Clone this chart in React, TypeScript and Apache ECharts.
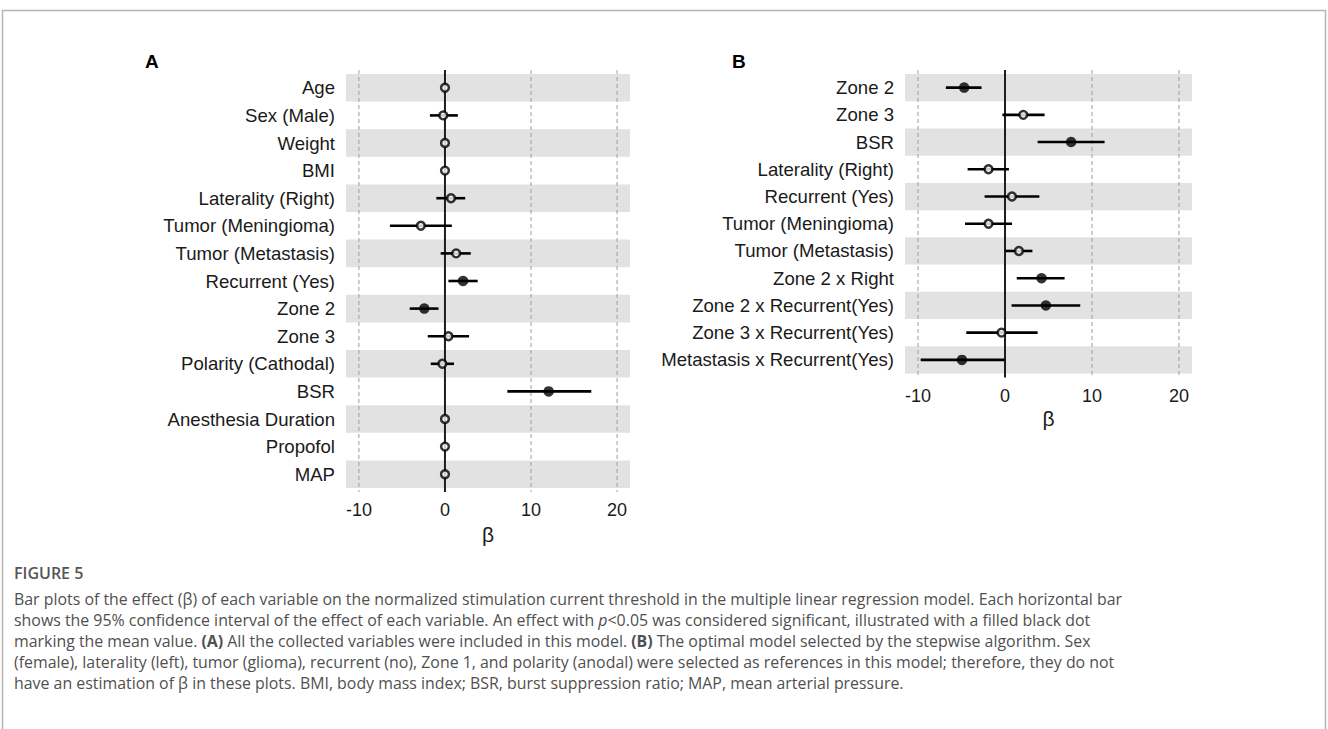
import React, { useEffect, useRef } from 'react';
import * as echarts from 'echarts';

// ---------- Data ----------
const labelsA = [
  'Age', 'Sex (Male)', 'Weight', 'BMI', 'Laterality (Right)', 'Tumor (Meningioma)',
  'Tumor (Metastasis)', 'Recurrent (Yes)', 'Zone 2', 'Zone 3', 'Polarity (Cathodal)',
  'BSR', 'Anesthesia Duration', 'Propofol', 'MAP',
];
const estA = [0, -0.2, 0, 0, 0.7, -2.8, 1.3, 2.1, -2.4, 0.4, -0.3, 12.05, 0, 0, 0];
const loA = [-0.05, -1.75, -0.05, -0.05, -1.0, -6.4, -0.5, 0.4, -4.1, -2.0, -1.65, 7.25, -0.05, -0.05, -0.05];
const hiA = [0.05, 1.5, 0.05, 0.05, 2.35, 0.8, 3.0, 3.8, -0.75, 2.8, 1.05, 17.0, 0.05, 0.05, 0.05];
const sigA = [0, 0, 0, 0, 0, 0, 0, 1, 1, 0, 0, 1, 0, 0, 0];

const labelsB = [
  'Zone 2', 'Zone 3', 'BSR', 'Laterality (Right)', 'Recurrent (Yes)', 'Tumor (Meningioma)',
  'Tumor (Metastasis)', 'Zone 2 x Right', 'Zone 2 x Recurrent(Yes)', 'Zone 3 x Recurrent(Yes)',
  'Metastasis x Recurrent(Yes)',
];
const estB = [-4.7, 2.1, 7.6, -1.9, 0.8, -1.9, 1.6, 4.2, 4.7, -0.4, -4.95];
const loB = [-6.8, -0.3, 3.75, -4.3, -2.35, -4.6, 0.05, 1.35, 0.75, -4.45, -9.7];
const hiB = [-2.7, 4.55, 11.45, 0.45, 3.95, 0.8, 3.15, 6.85, 8.65, 3.75, 0.0];
const sigB = [1, 0, 1, 0, 0, 0, 0, 1, 1, 0, 1];

const xTicks = [-10, 0, 10, 20];
const xMin = -11.5;
const xMax = 21.5;

const captionTitle = 'FIGURE 5';
const captionLines = [
  'Bar plots of the effect (β) of each variable on the normalized stimulation current threshold in the multiple linear regression model. Each horizontal bar',
  'shows the 95% confidence interval of the effect of each variable. An effect with {i|p}<0.05 was considered significant, illustrated with a filled black dot',
  'marking the mean value. {b|(A)} All the collected variables were included in this model. {b|(B)} The optimal model selected by the stepwise algorithm. Sex',
  '(female), laterality (left), tumor (glioma), recurrent (no), Zone 1, and polarity (anodal) were selected as references in this model; therefore, they do not',
  'have an estimation of β in these plots. BMI, body mass index; BSR, burst suppression ratio; MAP, mean arterial pressure.',
];

const AX_FONT = '"Liberation Sans", Arial, Helvetica, sans-serif';
const CAP_FONT = '"Open Sans", "Noto Sans", sans-serif';
const CAP_SIZE = 15.9;

function buildPanel(idx: number, labels: string[], est: number[], lo: number[], hi: number[], sig: number[]) {
  const stripes = labels.map((_, i) => i).filter((i) => i % 2 === 0).map((i) => [0, i]);
  const vlines = xTicks.map((v) => [v, 0]);
  const ci = labels.map((_, i) => [lo[i], hi[i], i]);
  const pts = labels.map((_, i) => ({
    value: [est[i], i],
    symbolSize: sig[i] ? 10.5 : 7.8,
    itemStyle: sig[i]
      ? { color: '#000', borderWidth: 0 }
      : { color: '#fff', borderColor: '#000', borderWidth: 2.5 },
  }));
  return [
    {
      type: 'custom', xAxisIndex: idx, yAxisIndex: idx, z: 1, silent: true,
      data: stripes, encode: { x: 0, y: 1 },
      renderItem: (params: any, api: any) => {
        const cs = params.coordSys;
        const c = api.coord([0, api.value(1)]);
        const h = api.size([0, 1])[1];
        return { type: 'rect', shape: { x: cs.x, y: c[1] - h / 2, width: cs.width, height: h }, style: { fill: '#e2e2e2' } };
      },
    },
    {
      type: 'custom', xAxisIndex: idx, yAxisIndex: idx, z: 2, silent: true, clip: false,
      data: vlines, encode: { x: 0, y: 1 },
      renderItem: (params: any, api: any) => {
        const cs = params.coordSys;
        const v = api.value(0);
        const x = api.coord([v, 0])[0];
        const isZero = v === 0;
        return {
          type: 'line', z2: isZero ? 5 : 1,
          shape: { x1: x, y1: cs.y - 4, x2: x, y2: cs.y + cs.height + 4 },
          style: isZero
            ? { stroke: '#1e1e1e', lineWidth: 2 }
            : { stroke: '#9d9d9d', lineWidth: 1, lineDash: [4, 3] },
        };
      },
    },
    {
      type: 'custom', xAxisIndex: idx, yAxisIndex: idx, z: 3, silent: true,
      data: ci, encode: { x: [0, 1], y: 2 },
      renderItem: (params: any, api: any) => {
        const p1 = api.coord([api.value(0), api.value(2)]);
        const p2 = api.coord([api.value(1), api.value(2)]);
        return { type: 'line', shape: { x1: p1[0], y1: p1[1], x2: p2[0], y2: p2[1] }, style: { stroke: '#000', lineWidth: 2.6 } };
      },
    },
    {
      type: 'scatter', xAxisIndex: idx, yAxisIndex: idx, z: 4, silent: true,
      symbol: 'circle', data: pts,
    },
  ];
}

function axesFor(idx: number, labels: string[]) {
  const x = {
    type: 'value', gridIndex: idx, min: xMin, max: xMax,
    axisLine: { show: false }, axisTick: { show: false }, splitLine: { show: false },
    axisLabel: { customValues: xTicks, fontSize: 18, color: '#1a1a1a', margin: 13, fontFamily: AX_FONT },
    name: 'β', nameLocation: 'middle', nameGap: 34,
    nameTextStyle: { fontSize: 21, color: '#1a1a1a', fontFamily: AX_FONT },
  };
  const y = {
    type: 'category', gridIndex: idx, data: labels, inverse: true,
    axisLine: { show: false }, axisTick: { show: false }, splitLine: { show: false },
    axisLabel: { fontSize: 18.6, color: '#1a1a1a', margin: 11, fontFamily: AX_FONT },
  };
  return { x, y };
}

export default function App() {
  const ref = useRef<HTMLDivElement>(null);
  useEffect(() => {
    if (!ref.current) return;
    const chart = echarts.init(ref.current, undefined, { renderer: 'svg' });
    const aA = axesFor(0, labelsA);
    const aB = axesFor(1, labelsB);
    const capGraphics: any[] = captionLines.map((t, i) => ({
      type: 'text', left: 14, top: 591 + i * 21, silent: true,
      style: {
        text: t, fill: '#505050', font: `${CAP_SIZE}px ${CAP_FONT}`,
        rich: {
          b: { font: `bold ${CAP_SIZE}px ${CAP_FONT}`, fill: '#505050' },
          i: { font: `italic ${CAP_SIZE}px ${CAP_FONT}`, fill: '#505050' },
        },
      },
    }));
    chart.setOption({
      animation: false,
      backgroundColor: '#fff',
      grid: [
        { left: 346, top: 74, width: 284, height: 414, containLabel: false },
        { left: 905, top: 74, width: 287, height: 299.5, containLabel: false },
      ],
      xAxis: [aA.x, aB.x],
      yAxis: [aA.y, aB.y],
      series: [
        ...buildPanel(0, labelsA, estA, loA, hiA, sigA),
        ...buildPanel(1, labelsB, estB, loB, hiB, sigB),
      ],
      graphic: [
        {
          type: 'rect', silent: true, z: -1,
          shape: { x: 2.5, y: 10.5, width: 1323, height: 740 },
          style: { fill: 'none', stroke: '#b5b5b5', lineWidth: 1.5 },
        },
        { type: 'text', left: 145, top: 52, silent: true, style: { text: 'A', font: `bold 19px ${AX_FONT}`, fill: '#000' } },
        { type: 'text', left: 732, top: 52, silent: true, style: { text: 'B', font: `bold 19px ${AX_FONT}`, fill: '#000' } },
        {
          type: 'text', left: 14, top: 565, silent: true,
          style: { text: captionTitle, font: `600 16px ${CAP_FONT}`, fill: '#555' },
        },
        ...capGraphics,
      ],
    });
    return () => chart.dispose();
  }, []);
  return <div ref={ref} style={{ position: 'fixed', left: 0, top: 0, width: 1328, height: 729 }} />;
}
